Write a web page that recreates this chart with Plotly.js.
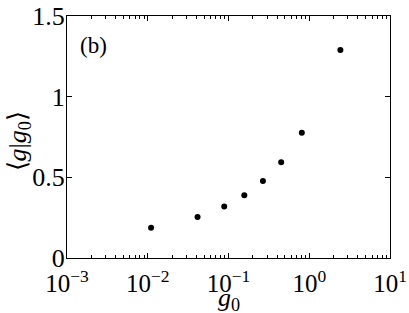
<!DOCTYPE html>
<html><head><meta charset="utf-8">
<script src="https://cdn.plot.ly/plotly-3.0.1.min.js"></script>
<style>html,body{margin:0;padding:0;background:#fff}#c{width:409px;height:313px}</style>
</head><body><div id="c"></div>
<script>
const g0 = [0.0110, 0.0414, 0.0885, 0.157, 0.267, 0.449, 0.809, 2.43];
const gMean = [0.188, 0.254, 0.319, 0.389, 0.477, 0.593, 0.777, 1.29];
const xTicks = [0.001, 0.01, 0.1, 1, 10];
const xTickText = ['10<sup>−3</sup>', '10<sup>−2</sup>', '10<sup>−1</sup>', '10<sup>0</sup>', '10<sup>1</sup>'];
const yTicks = [0, 0.5, 1, 1.5];
const yTickText = ['0', '0.5', '1', '1.5'];
const panelLabel = '(b)';
const xTitle = '<i>g</i><sub>0</sub>';
const yTitle = '⟨<i>g</i>|<i>g</i><sub>0</sub>⟩';

const FAM = 'Liberation Serif, Times New Roman, serif';
const f = (s) => ({family: FAM, size: s, color: '#000'});
const axisCommon = {
  showline: true, linecolor: '#000', linewidth: 1, mirror: 'ticks',
  ticks: 'inside', ticklen: 5, tickcolor: '#000', tickwidth: 1,
  showgrid: false, zeroline: false
};
Plotly.newPlot('c', [{
  x: g0, y: gMean, type: 'scatter', mode: 'markers',
  marker: {color: '#000', size: 6}
}], {
  width: 409, height: 313,
  margin: {l: 67, r: 19, t: 16, b: 55},
  paper_bgcolor: '#fff', plot_bgcolor: '#fff',
  showlegend: false,
  font: f(25),
  xaxis: Object.assign({}, axisCommon, {
    type: 'log', range: [-3, 1], tickvals: xTicks, ticktext: xTickText,
    tickfont: f(25), ticklabelstandoff: 3,
    minor: {dtick: 'D1', ticks: 'inside', ticklen: 3, tickcolor: '#000', showgrid: false}
  }),
  yaxis: Object.assign({}, axisCommon, {
    range: [0, 1.5], tickvals: yTicks, ticktext: yTickText,
    tickfont: f(26), ticklabelstandoff: -4
  }),
  annotations: [{
    text: panelLabel, xref: 'paper', yref: 'paper', x: 0.035, y: 0.94,
    xanchor: 'left', yanchor: 'top', showarrow: false, font: f(23)
  }, {
    text: xTitle, xref: 'paper', yref: 'paper', x: 0.5, y: -0.168,
    xanchor: 'center', yanchor: 'middle', showarrow: false, font: f(26)
  }, {
    text: yTitle, xref: 'paper', yref: 'paper', x: -0.15, y: 0.48,
    xanchor: 'center', yanchor: 'middle', showarrow: false, textangle: -90, font: f(26)
  }]
}, {staticPlot: true});
</script></body></html>
